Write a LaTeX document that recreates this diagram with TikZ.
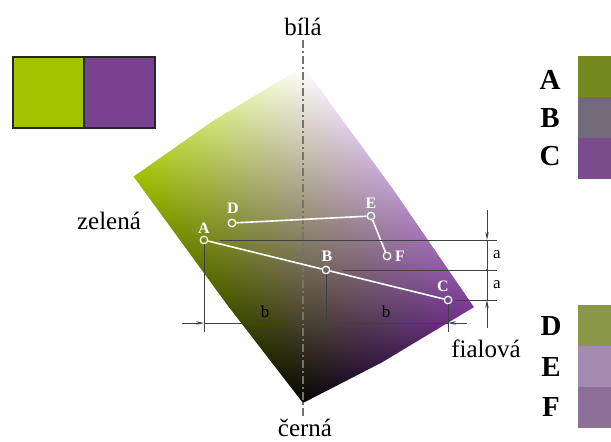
\documentclass[tikz,border=0pt]{standalone}
\usepackage{fontspec}
\setmainfont{Liberation Serif}
\usetikzlibrary{arrows.meta}

\definecolor{zelena}{HTML}{A3C300}
\definecolor{fialova}{HTML}{7A4190}
\definecolor{swA}{RGB}{116,137,30}
\definecolor{swB}{RGB}{114,106,120}
\definecolor{swC}{RGB}{122,76,140}
\definecolor{swD}{RGB}{138,150,72}
\definecolor{swE}{RGB}{163,138,175}
\definecolor{swF}{RGB}{140,110,150}

% white top, black bottom, green left, purple right
\pgfdeclarefunctionalshading{colorsolid}{\pgfpoint{-75bp}{-75bp}}{\pgfpoint{75bp}{75bp}}{}{
  25 add 50 div exch 25 add 50 div exch
  1 index -0.36 mul 1 add 1 index 1 exch sub mul 2 index 1 exch sub 2 index mul 0.49 mul add 3 1 roll
  1 index -0.23 mul 1 add 1 index 1 exch sub mul 2 index 1 exch sub 2 index mul 0.23 mul add 3 1 roll
  1 index -1 mul 1 add 1 index 1 exch sub mul 2 index 1 exch sub 2 index mul 0.60 mul add 3 1 roll
  pop pop
}

\begin{document}
\begin{tikzpicture}[x=1pt,y=-1pt,
  pnt/.style={circle, draw=white, line width=1.3pt, minimum size=7.5pt, inner sep=0pt},
  link/.style={draw=white, line width=1.6pt},
  plab/.style={text=white, font=\fontsize{16}{16}\selectfont\bfseries, inner sep=0pt},
  axlab/.style={font=\fontsize{25}{25}\selectfont, inner sep=0pt},
  dim/.style={draw=black!75, line width=0.9pt},
  dimtip/.style={dim, -{Stealth[length=8pt,width=3.5pt]}},
  dimlab/.style={font=\fontsize{17}{17}\selectfont, inner sep=0pt},
  key/.style={font=\fontsize{29}{29}\selectfont\bfseries, inner sep=0pt},
  chip/.style={minimum width=33pt, minimum height=41pt, inner sep=0pt, anchor=north west}
]
\useasboundingbox (0,0) rectangle (611,442);

% the colour solid
\coordinate (T) at (303,58);
\coordinate (L) at (130,179);
\coordinate (K) at (303,403);
\coordinate (R) at (478,313);
\begin{scope}
  \clip (T) -- (L) -- (K) -- (R) -- cycle;
  \begin{scope}[transform canvas={cm={-17.4,-10.45,17.4,-23.85,(303.5,66.5)}}]
    \shade[shading=colorsolid] (0pt,0pt) rectangle (10pt,10pt);
  \end{scope}
\end{scope}

% axis
\coordinate (ax0) at (303,40);
\coordinate (ax1) at (303,416);
\draw[black!55, line width=1.4pt, dash pattern=on 8pt off 3pt on 2pt off 3pt] (ax0) -- (ax1);

\node[axlab] (bila) at (303,27) {bílá};
\node[axlab] (cerna) at (305,428) {černá};
\node[axlab] (zel) at (109,221) {zelená};
\node[axlab] (fia) at (486,349) {fialová};

% colour pair
\node[draw=black!85, line width=2pt, fill=zelena, minimum size=71pt, inner sep=0pt, anchor=north west] (sq1) at (12,56) {};
\node[draw=black!85, line width=2pt, fill=fialova, minimum size=71pt, inner sep=0pt, anchor=north west] (sq2) at (83,56) {};

% points
\node[pnt] (A) at (204,240) {};
\node[pnt] (B) at (326,270) {};
\node[pnt] (C) at (448,300) {};
\node[pnt] (D) at (232,223) {};
\node[pnt] (E) at (371,216) {};
\node[pnt] (F) at (387,256) {};
\draw[link] (A) -- (B) -- (C);
\draw[link] (D) -- (E) -- (F);
\node[plab] (lA) at (204,228) {A};
\node[plab] (lB) at (327,256) {B};
\node[plab] (lC) at (443,286) {C};
\node[plab] (lD) at (233,208) {D};
\node[plab] (lE) at (371,203) {E};
\node[plab] (lF) at (400,256) {F};

% dimension a
\coordinate (a1) at (220,240);
\coordinate (a1e) at (497,240);
\coordinate (a2) at (343,270);
\coordinate (a2e) at (497,270);
\coordinate (a3) at (455,300);
\coordinate (a3e) at (497,300);
\draw[dim] (a1) -- (a1e);
\draw[dim] (a2) -- (a2e);
\draw[dim] (a3) -- (a3e);
\coordinate (va0) at (487,210);
\coordinate (va1) at (487,240);
\coordinate (va2) at (487,270);
\coordinate (va3) at (487,300);
\coordinate (va4) at (487,328);
\draw[dimtip] (va0) -- (va1);
\draw[dim] (va1) -- (va3);
\draw[dimtip] (va4) -- (va3);
\fill[black!75] (va2) circle (1.2pt);
\node[dimlab] (la1) at (497,255) {a};
\node[dimlab] (la2) at (497,285) {a};

% dimension b
\coordinate (eA) at (204,332);
\coordinate (eB) at (326,332);
\coordinate (eC) at (448,332);
\draw[dim] (A) -- (eA);
\draw[dim] (B) -- (eB);
\draw[dim] (C) -- (eC);
\coordinate (hb0) at (182,323);
\coordinate (hb1) at (204,323);
\coordinate (hb2) at (326,323);
\coordinate (hb3) at (448,323);
\coordinate (hb4) at (467,323);
\draw[dimtip] (hb0) -- (hb1);
\draw[dim] (hb1) -- (hb3);
\draw[dimtip] (hb4) -- (hb3);
\fill[black!75] (hb2) circle (1.2pt);
\node[dimlab] (lb1) at (265,312) {b};
\node[dimlab] (lb2) at (386,312) {b};

% samples
\node[key] (kA) at (550,80) {A};
\node[key] (kB) at (550,118) {B};
\node[key] (kC) at (550,156) {C};
\node[key] (kD) at (551,326) {D};
\node[key] (kE) at (551,367) {E};
\node[key] (kF) at (551,407) {F};
\node[chip, fill=swA] (sA) at (578,56) {};
\node[chip, fill=swB] (sB) at (578,97) {};
\node[chip, fill=swC] (sC) at (578,138) {};
\node[chip, fill=swD] (sD) at (578,305) {};
\node[chip, fill=swE] (sE) at (578,346) {};
\node[chip, fill=swF] (sF) at (578,387) {};
\end{tikzpicture}
\end{document}
